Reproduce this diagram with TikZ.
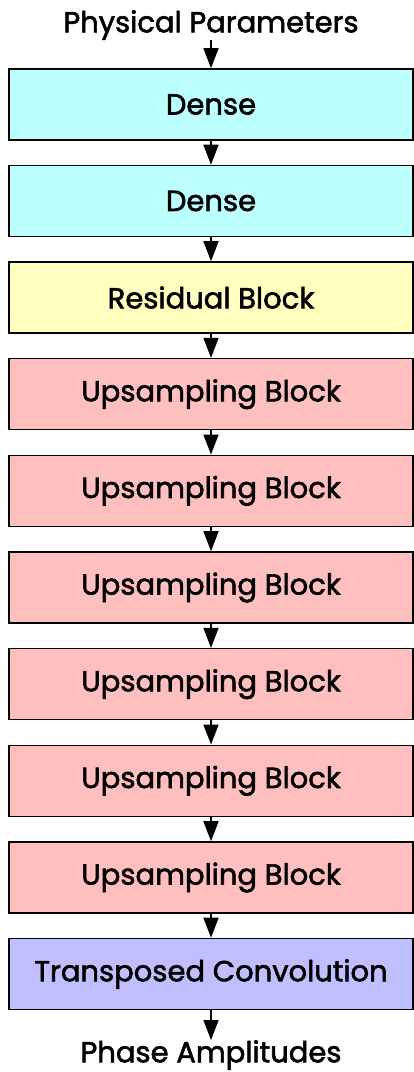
\documentclass[tikz,border=0pt]{standalone}
\usepackage{fontspec}
\setmainfont{Poppins}
\newfontfamily\blockfont{Poppins}[FakeBold=2]
\usetikzlibrary{arrows.meta}
\definecolor{densecol}{HTML}{BBFFFF}
\definecolor{rescol}{HTML}{FFFFBF}
\definecolor{upcol}{HTML}{FFBFBF}
\definecolor{convcol}{HTML}{BFBFFF}
\tikzset{
    layer/.style={draw=black, line width=1.6pt, minimum width=404pt, minimum height=71pt,
        inner sep=0pt, font=\blockfont\fontsize{29}{33}\selectfont},
    label text/.style={inner sep=0pt, font=\blockfont\fontsize{29}{33}\selectfont},
}
\begin{document}
\begin{tikzpicture}[x=1pt, y=1pt, >={Triangle[length=20pt, width=15pt]}]
    \useasboundingbox (0,0) rectangle (414,-1072);
    % 1. Đầu vào
    \node[label text] (inp) at (211,-25) {Physical Parameters};
    % 2. Các khối
    \node[layer, fill=densecol] (d1) at (211,-104.5) {Dense};
    \node[layer, fill=densecol] (d2) at (211,-201) {Dense};
    \node[layer, fill=rescol] (res) at (211,-297.5) {Residual Block};
    \foreach \i in {1,...,6}
        \node[layer, fill=upcol] (up\i) at (211,{-297.5-96.67*\i}) {Upsampling Block};
    \node[layer, fill=convcol] (conv) at (211,-974) {Transposed Convolution};
    % 3. Đầu ra
    \node[label text] (out) at (211,-1055) {Phase Amplitudes};
    % 4. Mũi tên
    \draw[->, line width=1.6pt] (inp) -- (d1);
    \draw[->, line width=1.6pt] (d1) -- (d2);
    \draw[->, line width=1.6pt] (d2) -- (res);
    \draw[->, line width=1.6pt] (res) -- (up1);
    \foreach \i [evaluate=\i as \j using int(\i+1)] in {1,...,5}
        \draw[->, line width=1.6pt] (up\i) -- (up\j);
    \draw[->, line width=1.6pt] (up6) -- (conv);
    \draw[->, line width=1.6pt] (conv) -- (out);
\end{tikzpicture}
\end{document}
